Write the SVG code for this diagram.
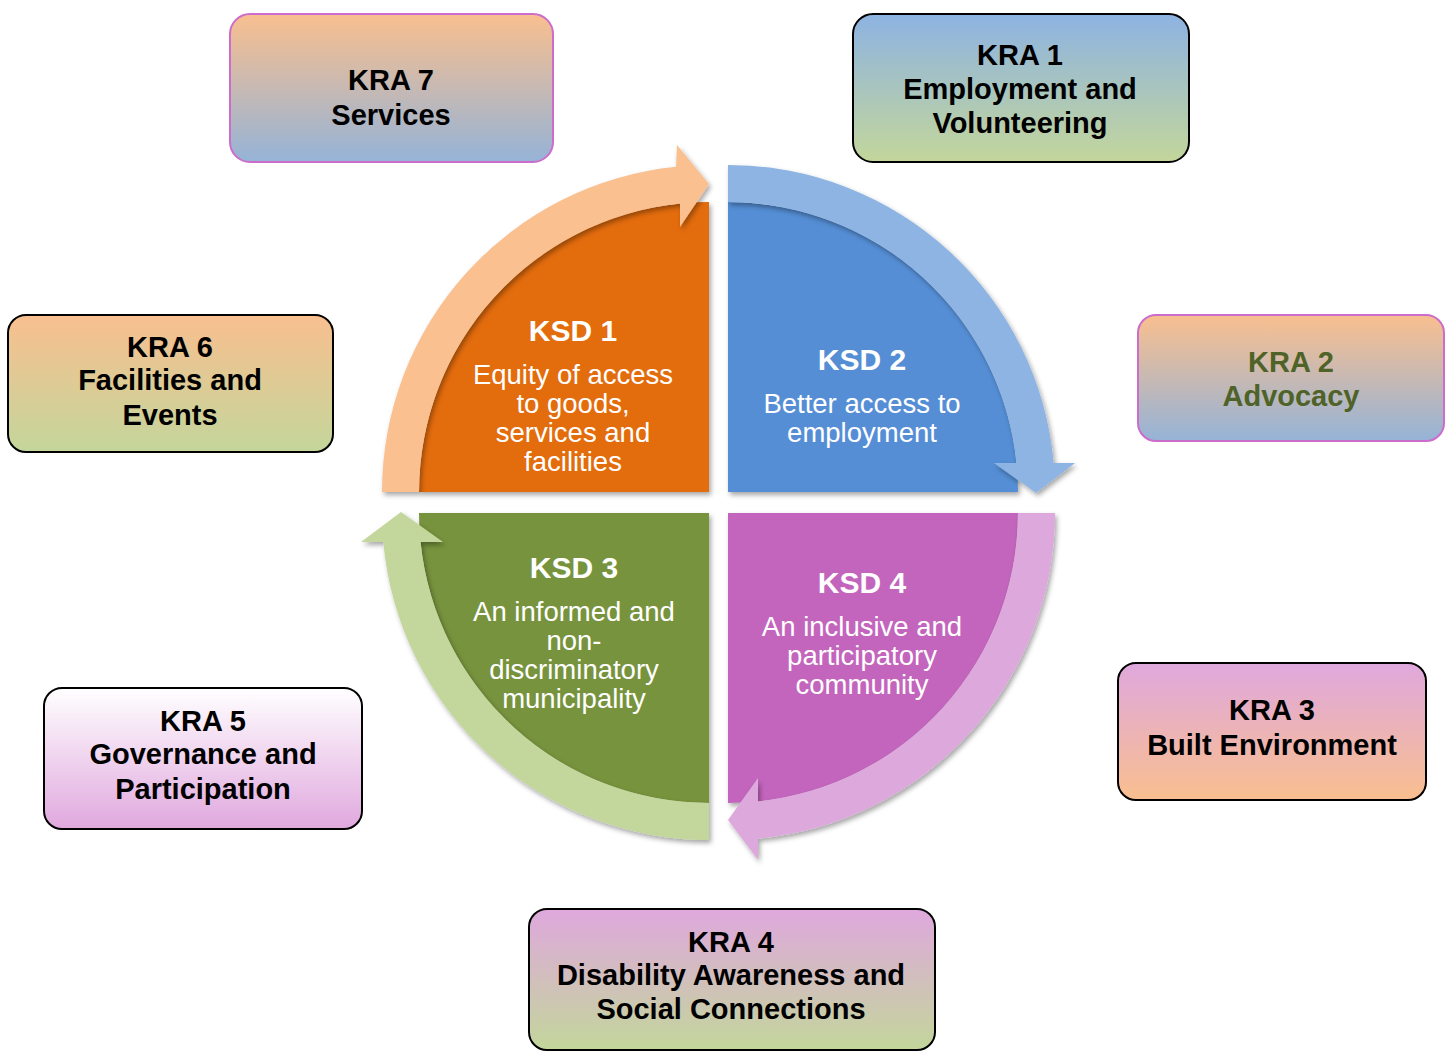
<svg xmlns="http://www.w3.org/2000/svg" width="1450" height="1053" viewBox="0 0 1450 1053">
<defs>
<linearGradient id="gPeachBlue" x1="0" y1="0" x2="0" y2="1"><stop offset="0" stop-color="#F9BF8F"/><stop offset="1" stop-color="#95B3D7"/></linearGradient>
<linearGradient id="gBlueGreen" x1="0" y1="0" x2="0" y2="1"><stop offset="0" stop-color="#8DB3E2"/><stop offset="1" stop-color="#C3D69B"/></linearGradient>
<linearGradient id="gPeachGreen" x1="0" y1="0" x2="0" y2="1"><stop offset="0" stop-color="#F9BF8F"/><stop offset="1" stop-color="#C3D69B"/></linearGradient>
<linearGradient id="gWhitePink" x1="0" y1="0" x2="0" y2="1"><stop offset="0" stop-color="#FFFFFF"/><stop offset="1" stop-color="#E0A8DE"/></linearGradient>
<linearGradient id="gPinkPeach" x1="0" y1="0" x2="0" y2="1"><stop offset="0" stop-color="#DFA8DD"/><stop offset="1" stop-color="#F9BF8F"/></linearGradient>
<linearGradient id="gPinkGreen" x1="0" y1="0" x2="0" y2="1"><stop offset="0" stop-color="#DFA8DD"/><stop offset="1" stop-color="#C3D69B"/></linearGradient>
<filter id="sh" x="-10%" y="-10%" width="130%" height="130%"><feDropShadow dx="2" dy="3" stdDeviation="2.5" flood-color="#000" flood-opacity="0.35"/></filter>
</defs>
<style>
.box{stroke:#000;stroke-width:2}
.pbox{stroke:#CC6CCB;stroke-width:2}
.kra{font-family:"Liberation Sans",Arial,sans-serif;font-weight:bold;font-size:29px;text-anchor:middle;fill:#000}
.kraG{fill:#4F6228}
.ksdT{font-family:"Liberation Sans",Arial,sans-serif;font-weight:bold;font-size:30px;text-anchor:middle;fill:#fff}
.ksdB{font-family:"Liberation Sans",Arial,sans-serif;font-size:27.5px;text-anchor:middle;fill:#fff}
</style>

<g id="ksd1">
<path d="M709,492 L419,492 A290,290 0 0 1 709,202 Z" fill="#E36C0A" filter="url(#sh)"/>
</g>
<g id="ksd2">
<path d="M728,492 L728,202 A290,290 0 0 1 1018,492 Z" fill="#558ED5" filter="url(#sh)"/>
</g>
<g id="ksd3">
<path d="M709,513 L709,803 A290,290 0 0 1 419,513 Z" fill="#77933C" filter="url(#sh)"/>
</g>
<g id="ksd4">
<path d="M728,513 L1018,513 A290,290 0 0 1 728,803 Z" fill="#C365BD" filter="url(#sh)"/>
</g>

<g id="connectors">
<path d="M382,492 A327,327 0 0 1 676,166.7 L677,145 L709,184 L680,227 L680,203.5 A290,290 0 0 0 419,492 Z" fill="#FAC090" filter="url(#sh)"/>
<path d="M728,165 A327,327 0 0 1 1053.7,463 L1075,463 L1036,493 L994,463 L1016.5,463 A290,290 0 0 0 728,202 Z" fill="#8EB4E3" filter="url(#sh)"/>
<path d="M1055,513 A327,327 0 0 1 758,838.6 L758,860 L728,820 L758,778 L758,801.4 A290,290 0 0 0 1018,513 Z" fill="#DDA9DC" filter="url(#sh)"/>
<path d="M709,840 A327,327 0 0 1 383.3,542 L361,542 L401,512 L443,542 L420.5,542 A290,290 0 0 0 709,803 Z" fill="#C3D69B" filter="url(#sh)"/>
</g>

<g id="ksd-labels">
<text class="ksdT" x="573" y="341">KSD 1</text>
<text class="ksdB" x="573" y="384">Equity of access</text>
<text class="ksdB" x="573" y="413">to goods,</text>
<text class="ksdB" x="573" y="442">services and</text>
<text class="ksdB" x="573" y="471">facilities</text>

<text class="ksdT" x="862" y="370">KSD 2</text>
<text class="ksdB" x="862" y="413">Better access to</text>
<text class="ksdB" x="862" y="442">employment</text>

<text class="ksdT" x="574" y="578">KSD 3</text>
<text class="ksdB" x="574" y="621">An informed and</text>
<text class="ksdB" x="574" y="650">non-</text>
<text class="ksdB" x="574" y="679">discriminatory</text>
<text class="ksdB" x="574" y="708">municipality</text>

<text class="ksdT" x="862" y="593">KSD 4</text>
<text class="ksdB" x="862" y="636">An inclusive and</text>
<text class="ksdB" x="862" y="665">participatory</text>
<text class="ksdB" x="862" y="694">community</text>
</g>

<g id="kra7">
<rect class="pbox" x="230" y="14" width="323" height="148" rx="20" fill="url(#gPeachBlue)"/>
<text class="kra" x="391" y="90">KRA 7</text>
<text class="kra" x="391" y="125">Services</text>
</g>
<g id="kra1">
<rect class="box" x="853" y="14" width="336" height="148" rx="20" fill="url(#gBlueGreen)"/>
<text class="kra" x="1020" y="65">KRA 1</text>
<text class="kra" x="1020" y="99">Employment and</text>
<text class="kra" x="1020" y="133">Volunteering</text>
</g>
<g id="kra6">
<rect class="box" x="8" y="315" width="325" height="137" rx="18" fill="url(#gPeachGreen)"/>
<text class="kra" x="170" y="357">KRA 6</text>
<text class="kra" x="170" y="390">Facilities and</text>
<text class="kra" x="170" y="425">Events</text>
</g>
<g id="kra2">
<rect class="pbox" x="1138" y="315" width="306" height="126" rx="18" fill="url(#gPeachBlue)"/>
<text class="kra kraG" x="1291" y="372">KRA 2</text>
<text class="kra kraG" x="1291" y="406">Advocacy</text>
</g>
<g id="kra5">
<rect class="box" x="44" y="688" width="318" height="141" rx="18" fill="url(#gWhitePink)"/>
<text class="kra" x="203" y="731">KRA 5</text>
<text class="kra" x="203" y="764">Governance and</text>
<text class="kra" x="203" y="799">Participation</text>
</g>
<g id="kra3">
<rect class="box" x="1118" y="663" width="308" height="137" rx="18" fill="url(#gPinkPeach)"/>
<text class="kra" x="1272" y="720">KRA 3</text>
<text class="kra" x="1272" y="755">Built Environment</text>
</g>
<g id="kra4">
<rect class="box" x="529" y="909" width="406" height="141" rx="18" fill="url(#gPinkGreen)"/>
<text class="kra" x="731" y="952">KRA 4</text>
<text class="kra" x="731" y="985">Disability Awareness and</text>
<text class="kra" x="731" y="1019">Social Connections</text>
</g>
</svg>
